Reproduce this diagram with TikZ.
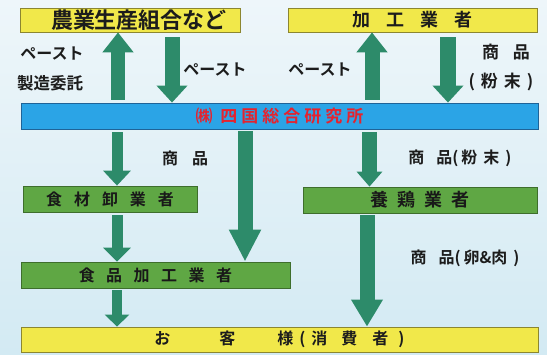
\documentclass[tikz,border=0pt]{standalone}
\usepackage{fontspec}
\setmainfont{Noto Sans CJK JP}[BoldFont={* Bold}]
\usetikzlibrary{arrows.meta,calc}
\definecolor{bgtop}{HTML}{EEF6FA}
\definecolor{bgbot}{HTML}{D3EAF3}
\definecolor{yel}{HTML}{F1E84A}
\definecolor{yelb}{HTML}{8C8630}
\definecolor{grn}{HTML}{5FA744}
\definecolor{grnb}{HTML}{3E6E2C}
\definecolor{blu}{HTML}{2BA4E6}
\definecolor{blub}{HTML}{1F6398}
\definecolor{arr}{HTML}{2D8B6A}
\definecolor{redt}{HTML}{E5232E}
\definecolor{ink}{HTML}{1C1C1C}
\newcommand{\gp}[1]{\hspace{#1}}
\tikzset{
  ybox/.style={draw=yelb, line width=0.8pt, fill=yel, inner sep=0pt, text=ink, font=\bfseries},
  gbox/.style={draw=grnb, line width=0.8pt, fill=grn, inner sep=0pt, text=ink!90!black, font=\bfseries},
  bbox/.style={draw=blub, line width=0.8pt, fill=blu, inner sep=0pt, text=redt, font=\bfseries},
  lbl/.style={text=ink, font=\bfseries\fontsize{16}{16}\selectfont, inner sep=0pt},
  flow/.style args={#1/#2/#3}{draw=arr, line width=#1, -{Triangle[length=#2,width=#3,fill=arr]}}
}
\begin{document}
\begin{tikzpicture}[x=1pt,y=-1pt]
\useasboundingbox (0,0) rectangle (547,354);
\shade[top color=bgtop, bottom color=bgbot] (0,0) rectangle (547,354);
% boxes
\node[ybox, minimum width=220pt, minimum height=24pt, font=\bfseries\fontsize{22}{22}\selectfont] (nogyo) at (130,20) {\gp{18pt}農業生産組合など};
\node[ybox, minimum width=249pt, minimum height=24pt, font=\bfseries\fontsize{18}{18}\selectfont] (kako) at (412.5,20) {加\gp{16pt}工\gp{16pt}業\gp{16pt}者};
\node[bbox, minimum width=517pt, minimum height=26pt, font=\bfseries\fontsize{17}{17}\selectfont] (bar) at (279.5,116) {㈱\gp{8pt}四\gp{4pt}国\gp{4pt}総\gp{4pt}合\gp{4pt}研\gp{4pt}究\gp{4pt}所};
\node[gbox, minimum width=174pt, minimum height=26pt, font=\bfseries\fontsize{16}{16}\selectfont] (shokuzai) at (110,199) {食\gp{12pt}材\gp{12pt}卸\gp{12pt}業\gp{12pt}者\gp{5pt}};
\node[gbox, minimum width=269pt, minimum height=26pt, font=\bfseries\fontsize{16}{16}\selectfont] (shokuhin) at (155.5,275) {食\gp{11.5pt}品\gp{11.5pt}加\gp{11.5pt}工\gp{11.5pt}業\gp{11.5pt}者};
\node[gbox, minimum width=234pt, minimum height=26pt, font=\bfseries\fontsize{18}{18}\selectfont] (yokei) at (420,200) {養\gp{9pt}鶏\gp{9pt}業\gp{9pt}者\gp{5pt}};
\node[ybox, minimum width=517pt, minimum height=25pt, font=\bfseries\fontsize{16}{16}\selectfont] (okyaku) at (279.5,339.5) {お\gp{49pt}客\gp{42pt}様\gp{6pt}(\gp{6pt}消\gp{14pt}費\gp{15pt}者\gp{10pt})\gp{12pt}};
% arrows
\draw[flow={14pt/20pt/30pt}] ($(bar.north -| 118,0)+(0,-3)$) -- (nogyo.south -| 118,0);
\draw[flow={15pt/17pt/30pt}] ($(nogyo.south -| 172,0)+(0,5)$) -- (bar.north -| 172,0);
\draw[flow={15pt/20pt/30pt}] ($(bar.north -| 372,0)+(0,-3)$) -- (kako.south -| 372,0);
\draw[flow={16pt/17pt/30pt}] ($(kako.south -| 448,0)+(0,5)$) -- (bar.north -| 448,0);
\draw[flow={11pt/15pt/27pt}] ($(bar.south -| 117,0)+(0,3)$) -- (shokuzai.north -| 117,0);
\draw[flow={15pt/32pt/30pt}] ($(bar.south -| 245,0)+(0,2)$) -- (shokuhin.north -| 245,0);
\draw[flow={15pt/15pt/25pt}] ($(bar.south -| 369.5,0)+(0,3)$) -- (yokei.north -| 369.5,0);
\draw[flow={11pt/14pt/27pt}] ($(shokuzai.south -| 117,0)+(0,3)$) -- (shokuhin.north -| 117,0);
\draw[flow={10pt/12pt/24pt}] ($(shokuhin.south -| 117,0)+(0,2)$) -- (okyaku.north -| 117,0);
\draw[flow={15pt/27pt/30pt}] ($(yokei.south -| 367,0)+(0,2)$) -- (okyaku.north -| 367,0);
% labels
\node[lbl] (l1) at (52,54) {ペースト};
\node[lbl, font=\bfseries\fontsize{16.5}{16.5}\selectfont] (l2) at (50,83) {製造委託};
\node[lbl] (l3) at (215,70) {ペースト};
\node[lbl] (l4) at (320,70) {ペースト};
\node[lbl, font=\bfseries\fontsize{17}{17}\selectfont] (l5) at (506,52) {商\gp{14pt}品};
\node[lbl, font=\bfseries\fontsize{17}{17}\selectfont] (l6) at (501,82) {(\gp{6pt}粉\gp{6pt}末\gp{6pt})};
\node[lbl] (l7) at (185,158) {商\gp{14pt}品};
\node[lbl] (l8) at (460,158) {商\gp{12pt}品(\gp{3pt}粉\gp{6pt}末\gp{6pt})};
\node[lbl] (l9) at (465,258) {商\gp{12pt}品(\gp{3pt}卵\&肉\gp{6pt})};
\end{tikzpicture}
\end{document}
